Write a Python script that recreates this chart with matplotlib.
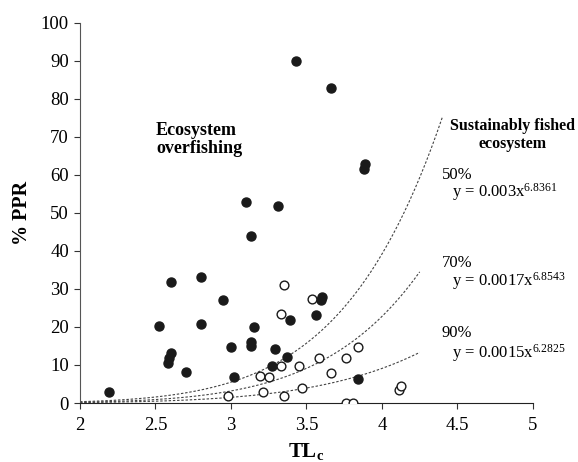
import numpy as np
import matplotlib
matplotlib.use('Agg')
import matplotlib.pyplot as plt

plt.rcParams['font.family'] = ['Liberation Serif', 'DejaVu Serif']
plt.rcParams['mathtext.default'] = 'regular'

# filled circles (ecosystems)
filled_tl = [2.19, 2.52, 2.58, 2.59, 2.60, 2.60, 2.70, 2.80, 2.80, 2.95,
             3.00, 3.02, 3.10, 3.13, 3.13, 3.13, 3.15, 3.27, 3.29, 3.31,
             3.37, 3.39, 3.43, 3.56, 3.595, 3.60, 3.66, 3.84, 3.88, 3.885]
filled_ppr = [2.8, 20.3, 10.6, 11.8, 13.1, 31.8, 8.2, 33.1, 20.8, 27.2,
              14.6, 6.8, 52.8, 44.0, 16.1, 15.1, 20.1, 9.6, 14.1, 51.7,
              12.2, 21.8, 89.9, 23.2, 27.0, 28.0, 82.8, 6.2, 61.5, 62.8]

# open circles
open_tl = [2.98, 3.19, 3.21, 3.25, 3.33, 3.33, 3.35, 3.35, 3.45, 3.47,
           3.54, 3.585, 3.66, 3.76, 3.76, 3.81, 3.84, 4.115, 4.125]
open_ppr = [1.8, 7.2, 3.0, 6.9, 23.3, 9.6, 31.0, 1.8, 9.8, 3.9,
            27.3, 11.8, 8.0, 11.8, 0.1, 0.1, 14.7, 3.4, 4.5]

# fitted curves y = a * x^b as printed on the chart
curve_pct = ['50%', '70%', '90%']
curve_a = [0.003, 0.0017, 0.0015]
curve_b = [6.8361, 6.8543, 6.2825]
curve_xend = [4.4, 4.25, 4.25]
pct_label_y = [60.0, 36.8, 18.4]
eq_label_y = [55.5, 32.0, 13.2]

fig = plt.figure(figsize=(5.78, 4.62), dpi=100)
ax = fig.add_axes([0.1384, 0.1277, 0.7836, 0.8232])

for a, b, xe in zip(curve_a, curve_b, curve_xend):
    xs = np.linspace(2, xe, 200)
    ax.plot(xs, a * xs ** b, color='#444444', lw=0.8, ls=(0, (2.2, 1.6)), zorder=1)

ax.plot(filled_tl, filled_ppr, 'o', ms=6.5, color='#1a1a1a', mec='#1a1a1a', zorder=3)
ax.plot(open_tl, open_ppr, 'o', ms=6.3, mfc='white', mec='#1a1a1a', mew=1.0, zorder=3)

for pct, a, b, py, ey in zip(curve_pct, curve_a, curve_b, pct_label_y, eq_label_y):
    ax.text(4.395, py, pct, fontsize=12, ha='left', va='center')
    ax.text(4.462, ey, 'y = %sx$^{%s}$' % (a, b), fontsize=12, ha='left', va='center')

ax.text(2.503, 69.2, 'Ecosystem\noverfishing', fontsize=13, fontweight='bold',
        ha='left', va='center', linespacing=1.1)
ax.text(4.868, 70.5, 'Sustainably fished\necosystem', fontsize=11.5, fontweight='bold',
        ha='center', va='center', linespacing=1.15)

ax.set_xlim(2, 5)
ax.set_ylim(0, 100)
ax.set_xticks([2, 2.5, 3, 3.5, 4, 4.5, 5])
ax.set_xticklabels(['2', '2.5', '3', '3.5', '4', '4.5', '5'])
ax.set_yticks(range(0, 101, 10))
ax.tick_params(labelsize=13.5, direction='out', length=4, width=0.8, color='#333333')
ax.tick_params(axis='x', pad=6)
ax.tick_params(axis='y', pad=4)
ax.spines['top'].set_visible(False)
ax.spines['right'].set_visible(False)
ax.spines['left'].set_color('#555555')
ax.spines['bottom'].set_color('#222222')
ax.set_xlabel('TL$_{c}$', fontsize=15, fontweight='bold', labelpad=5)
ax.set_ylabel('% PPR', fontsize=14.5, fontweight='bold', labelpad=6)

plt.savefig('out.png', dpi=100)
